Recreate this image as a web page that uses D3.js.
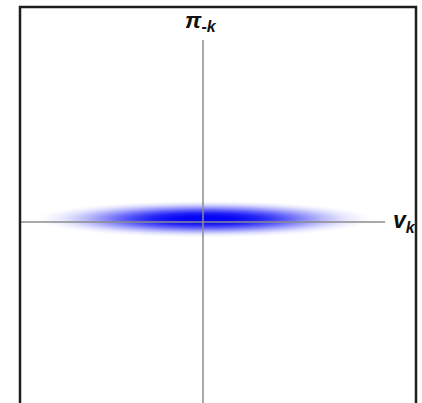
<!DOCTYPE html>
<html>
<head>
<meta charset="utf-8">
<script src="https://cdn.jsdelivr.net/npm/d3@7"></script>
<style>
  html, body { margin: 0; padding: 0; background: #fff; }
  svg { display: block; }
</style>
</head>
<body>
<svg id="chart" width="422" height="403"></svg>
<script>
// Axis domain (both axes centred on the origin)
const xDomain = [-1, 1];
const yDomain = [-1, 1];

// Distribution centre and spread, in data units
const blobCenter = [0.01, 0.016];
const blobRadius = [0.92, 0.1];

// Radial falloff of the density (offset along the radius, opacity)
const densityOffsets   = [0, 0.18, 0.33, 0.47, 0.6, 0.72, 0.83, 0.92, 1];
const densityOpacities = [1, 0.97, 0.86, 0.66, 0.44, 0.25, 0.11, 0.04, 0];

// Axis labels
const xLabel = { main: "v", sub: "k" };
const yLabel = { main: "π", sub: "-k" };

const svg = d3.select("#chart");
const W = 422, H = 403;

const x = d3.scaleLinear().domain(xDomain).range([21, 385]);
const y = d3.scaleLinear().domain(yDomain).range([404, 40]);

// Gradient for the density cloud
const defs = svg.append("defs");
const grad = defs.append("radialGradient")
  .attr("id", "density")
  .attr("cx", "50%").attr("cy", "50%").attr("r", "50%");
grad.selectAll("stop")
  .data(d3.zip(densityOffsets, densityOpacities))
  .join("stop")
  .attr("offset", d => d[0])
  .attr("stop-color", "#0000f6")
  .attr("stop-opacity", d => d[1]);

svg.append("ellipse")
  .attr("cx", x(blobCenter[0]))
  .attr("cy", y(blobCenter[1]))
  .attr("rx", x(blobRadius[0]) - x(0))
  .attr("ry", y(0) - y(blobRadius[1]))
  .attr("fill", "url(#density)");

// Axes through the origin
svg.append("line")
  .attr("x1", x(xDomain[0])).attr("x2", x(xDomain[1]))
  .attr("y1", y(0)).attr("y2", y(0))
  .attr("stroke", "#8c8c8c").attr("stroke-width", 1.5);
svg.append("line")
  .attr("x1", x(0)).attr("x2", x(0))
  .attr("y1", y(yDomain[1])).attr("y2", y(yDomain[0]))
  .attr("stroke", "#8c8c8c").attr("stroke-width", 1.5);

// Frame (open at the bottom)
svg.append("path")
  .attr("d", `M20,${H} L20,7 L416,7 L416,${H}`)
  .attr("fill", "none")
  .attr("stroke", "#1e1e1e")
  .attr("stroke-width", 2.5);

// Labels
const font = "'Liberation Sans', Arial, sans-serif";
function label(px, py, lab, subDy) {
  const t = svg.append("text")
    .attr("x", px).attr("y", py)
    .attr("font-family", font)
    .attr("font-weight", "bold")
    .attr("font-style", "italic")
    .attr("fill", "#111");
  t.append("tspan").attr("font-size", 23).text(lab.main);
  t.append("tspan").attr("font-size", 16).attr("dy", subDy).text(lab.sub);
}
label(x(0) - 18, 28, yLabel, 4);
label(x(xDomain[1]) + 8, y(0) + 6, xLabel, 5);
</script>
</body>
</html>
